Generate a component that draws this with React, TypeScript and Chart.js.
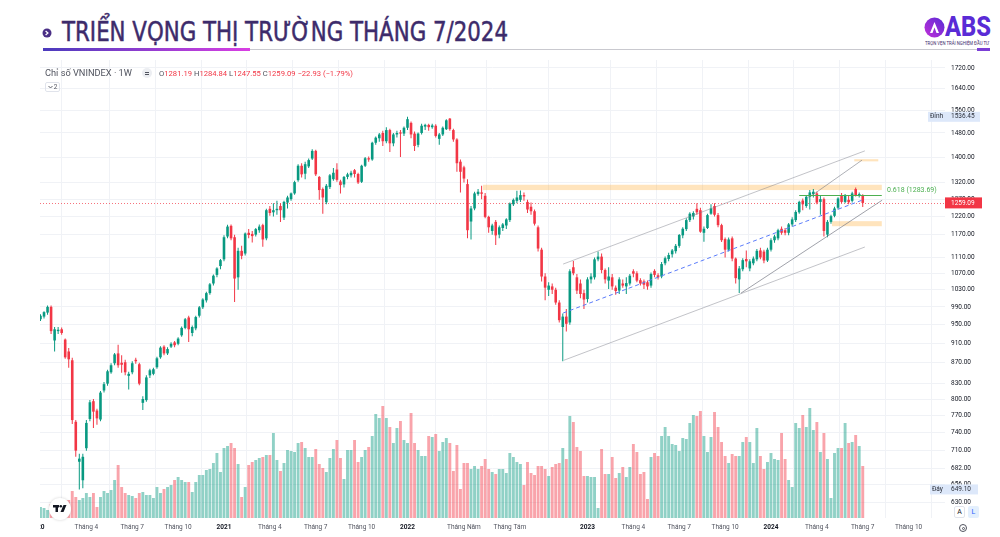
import React, { useEffect, useLayoutEffect, useRef } from 'react';
import { Chart, registerables } from 'chart.js';

Chart.register(...registerables);

// ---------- DATA (weekly VNINDEX bars, bar index 0 = first week of 2020) ----------
const OPEN = [
  958, 962, 968, 977, 990, 916, 936, 940, 918, 893,
  875, 759, 692, 663, 714, 764, 796, 779, 763, 816,
  829, 851, 869, 889, 870, 871, 844, 851, 876, 867,
  793, 798, 845, 848, 861, 881, 903, 889, 903, 912,
  909, 927, 943, 966, 932, 942, 970, 989, 1005, 1022,
  1045, 1066, 1088, 1105, 1165, 1194, 1163, 1060, 1127, 1120,
  1175, 1172, 1170, 1182, 1196, 1160, 1242, 1232, 1238, 1250,
  1217, 1260, 1270, 1287, 1327, 1372, 1347, 1370, 1395, 1420,
  1337, 1300, 1261, 1306, 1330, 1360, 1323, 1314, 1337, 1342,
  1358, 1346, 1322, 1372, 1396, 1392, 1447, 1462, 1480, 1452,
  1490, 1445, 1475, 1482, 1478, 1498, 1515, 1478, 1440, 1480,
  1502, 1508, 1500, 1505, 1460, 1475, 1493, 1530, 1490, 1458,
  1385, 1367, 1315, 1206, 1243, 1285, 1290, 1280, 1219, 1180,
  1205, 1170, 1188, 1195, 1210, 1255, 1265, 1268, 1282, 1262,
  1248, 1235, 1190, 1130, 1062, 1030, 1038, 1030, 1000, 945,
  968, 955, 1085, 1060, 1045, 1022, 1008, 1055, 1060, 1105,
  1112, 1078, 1052, 1060, 1035, 1028, 1045, 1038, 1045, 1075,
  1070, 1053, 1050, 1048, 1040, 1076, 1065, 1062, 1095, 1106,
  1118, 1126, 1140, 1168, 1185, 1210, 1220, 1242, 1238, 1175,
  1188, 1228, 1250, 1224, 1196, 1158, 1130, 1160, 1107, 1055,
  1080, 1106, 1082, 1095, 1105, 1128, 1125, 1102, 1130, 1155,
  1160, 1186, 1182, 1175, 1198, 1210, 1232, 1266, 1250, 1277,
  1285, 1287, 1262, 1270, 1170, 1205, 1222, 1245, 1282, 1262,
  1268, 1265, 1300, 1282, 1281.19,
];
const HIGH = [
  970, 973, 980, 993, 993, 945, 945, 944, 920, 900,
  880, 762, 705, 705, 762, 798, 800, 782, 815, 832,
  856, 869, 890, 907, 885, 876, 852, 873, 880, 870,
  805, 845, 858, 860, 882, 904, 906, 902, 912, 915,
  923, 946, 965, 970, 948, 970, 992, 1010, 1025, 1046,
  1067, 1085, 1106, 1168, 1197, 1198, 1170, 1135, 1140, 1176,
  1185, 1180, 1188, 1198, 1200, 1242, 1250, 1258, 1265, 1258,
  1265, 1280, 1290, 1325, 1377, 1380, 1385, 1395, 1425, 1424,
  1340, 1305, 1315, 1346, 1365, 1380, 1328, 1340, 1350, 1356,
  1362, 1350, 1375, 1400, 1402, 1450, 1468, 1480, 1488, 1500,
  1495, 1480, 1488, 1490, 1502, 1536.45, 1520, 1485, 1482, 1512,
  1512, 1512, 1512, 1510, 1480, 1502, 1528, 1532, 1495, 1462,
  1392, 1372, 1330, 1250, 1292, 1300, 1310, 1288, 1222, 1200,
  1210, 1195, 1202, 1215, 1260, 1272, 1295, 1296, 1290, 1268,
  1260, 1240, 1195, 1135, 1070, 1048, 1045, 1035, 1005, 975,
  985, 1080, 1101, 1068, 1055, 1030, 1060, 1070, 1110, 1125,
  1120, 1082, 1085, 1068, 1040, 1060, 1055, 1060, 1068, 1080,
  1075, 1058, 1055, 1052, 1072, 1080, 1070, 1098, 1112, 1122,
  1132, 1145, 1172, 1190, 1215, 1232, 1235, 1258, 1245, 1192,
  1228, 1255, 1258, 1230, 1200, 1162, 1162, 1165, 1110, 1088,
  1108, 1128, 1105, 1112, 1132, 1135, 1130, 1135, 1160, 1170,
  1186, 1192, 1188, 1202, 1218, 1238, 1265, 1272, 1280, 1297,
  1300, 1292, 1282, 1275, 1210, 1225, 1248, 1276, 1288, 1285,
  1280, 1292, 1305, 1290, 1284.84,
];
const LOW = [
  955, 958, 964, 972, 930, 893, 930, 928, 878, 860,
  755, 700, 649.1, 651, 710, 760, 748, 754, 760, 812,
  825, 848, 865, 860, 850, 845, 818, 847, 868, 826,
  780, 795, 840, 845, 858, 878, 885, 886, 900, 902,
  906, 924, 940, 913, 925, 938, 966, 985, 1000, 1018,
  1040, 1060, 1080, 1100, 1160, 1155, 1001, 1030, 1105, 1115,
  1160, 1149, 1165, 1175, 1138, 1155, 1222, 1220, 1225, 1205,
  1210, 1243, 1265, 1283, 1322, 1335, 1330, 1365, 1390, 1340,
  1268, 1228, 1255, 1300, 1325, 1322, 1287, 1305, 1330, 1335,
  1335, 1315, 1318, 1368, 1385, 1388, 1440, 1450, 1436, 1445,
  1416, 1435, 1465, 1400, 1470, 1490, 1462, 1420, 1432, 1475,
  1490, 1488, 1495, 1465, 1440, 1470, 1490, 1488, 1450, 1353,
  1290, 1320, 1160, 1157, 1238, 1280, 1270, 1215, 1175, 1170,
  1142, 1160, 1180, 1185, 1205, 1250, 1258, 1262, 1265, 1230,
  1225, 1195, 1125, 1050, 1005, 1015, 1020, 995, 955, 873,
  935, 950, 1065, 1020, 1010, 985, 1000, 1045, 1055, 1100,
  1070, 1045, 1032, 1030, 1018, 1020, 1035, 1020, 1040, 1060,
  1048, 1040, 1032, 1030, 1035, 1060, 1055, 1058, 1090, 1100,
  1110, 1120, 1135, 1160, 1180, 1205, 1212, 1225, 1175, 1151,
  1185, 1225, 1220, 1190, 1150, 1110, 1125, 1100, 1045, 1022,
  1075, 1085, 1075, 1090, 1100, 1105, 1095, 1098, 1125, 1148,
  1155, 1170, 1168, 1168, 1192, 1205, 1228, 1238, 1245, 1240,
  1275, 1255, 1225, 1165, 1163, 1200, 1218, 1240, 1258, 1258,
  1255, 1260, 1278, 1275, 1247.55,
];
const CLOSE = [
  965, 970, 978, 990, 936, 940, 939, 932, 881, 877,
  762, 710, 697, 700, 757, 794, 777, 765, 812, 828,
  853, 865, 887, 865, 866, 851, 848, 869, 873, 829,
  800, 841, 855, 857, 879, 901, 889, 898, 909, 906,
  920, 943, 962, 940, 945, 967, 989, 1007, 1022, 1043,
  1064, 1082, 1103, 1163, 1192, 1160, 1057, 1127, 1114, 1173,
  1169, 1166, 1185, 1192, 1157, 1238, 1230, 1238, 1242, 1238,
  1262, 1275, 1287, 1321, 1372, 1345, 1377, 1390, 1420, 1345,
  1297, 1275, 1310, 1342, 1350, 1328, 1312, 1337, 1345, 1350,
  1346, 1320, 1372, 1396, 1392, 1447, 1464, 1475, 1452, 1490,
  1445, 1475, 1480, 1478, 1498, 1528, 1475, 1436, 1478, 1505,
  1508, 1500, 1506, 1470, 1475, 1498, 1524, 1493, 1458, 1380,
  1353, 1332, 1182, 1243, 1287, 1292, 1286, 1219, 1190, 1195,
  1168, 1190, 1198, 1212, 1257, 1268, 1275, 1282, 1278, 1240,
  1235, 1200, 1133, 1062, 1035, 1040, 1030, 1000, 960, 968,
  952, 1075, 1070, 1028, 1020, 1007, 1055, 1062, 1105, 1112,
  1078, 1055, 1062, 1038, 1027, 1055, 1040, 1046, 1064, 1069,
  1052, 1045, 1042, 1038, 1068, 1066, 1060, 1093, 1108, 1116,
  1128, 1140, 1169, 1186, 1210, 1228, 1230, 1232, 1178, 1186,
  1224, 1243, 1225, 1196, 1155, 1130, 1157, 1107, 1058, 1082,
  1103, 1100, 1100, 1107, 1127, 1110, 1102, 1130, 1155, 1165,
  1182, 1175, 1175, 1198, 1212, 1233, 1262, 1255, 1277, 1290,
  1292, 1260, 1270, 1180, 1205, 1221, 1243, 1272, 1262, 1280,
  1261, 1287, 1282, 1282.02, 1259.09,
];
// weekly volume, million shares
const VOLUME = [
  500, 550, 500, 400, 700, 550, 400, 550, 900, 900,
  1350, 1050, 900, 1000, 1250, 1050, 1250, 550, 1050, 1350,
  1250, 1400, 1900, 2650, 1550, 1250, 1150, 1100, 1000, 1250,
  1300, 1150, 1150, 1000, 1550, 1250, 1450, 1550, 1650, 1900,
  2050, 1900, 1800, 1800, 1300, 1800, 2150, 2150, 2400, 2450,
  2750, 3250, 2300, 3500, 3600, 3750, 3500, 2700, 1050, 1550,
  2650, 2800, 2900, 3000, 3050, 3150, 3150, 4250, 2900, 2350,
  2750, 3400, 3350, 3300, 3750, 3800, 3500, 3050, 3050, 3450,
  2700, 2500, 2300, 3000, 3450, 3900, 3000, 1950, 3400, 3400,
  3900, 2800, 3050, 3400, 3550, 4100, 5200, 5000, 5600, 5000,
  4550, 3750, 4500, 4850, 3900, 3750, 5250, 3750, 3400, 3100,
  3100, 4100, 4050, 4200, 3350, 3800, 4000, 3750, 2350, 3650,
  1450, 2750, 2750, 2450, 2600, 2450, 2600, 2950, 2450, 2300,
  2200, 2450, 2450, 2250, 3250, 3050, 2800, 2700, 1650, 2800,
  2250, 2150, 2600, 2600, 2450, 2100, 2550, 2700, 2750, 3500,
  2950, 5100, 4800, 3550, 3350, 2100, 2100, 2050, 2050, 500,
  3450, 2200, 2200, 3050, 2000, 2250, 2550, 2050, 2550, 3700,
  3300, 2200, 2300, 950, 3050, 3250, 3100, 4100, 4550, 4100,
  3700, 3650, 3350, 4000, 3950, 4750, 5150, 5100, 5350, 4100,
  3300, 4050, 5300, 4550, 3800, 3100, 2750, 3200, 3100, 3100,
  3800, 4050, 3800, 2750, 4500, 3100, 2450, 2800, 3250, 2950,
  2900, 4250, 2950, 1900, 1550, 4750, 4500, 5150, 4550, 5500,
  4400, 4800, 3300, 4250, 2950, 1000, 3250, 3500, 3500, 4750,
  3750, 3800, 4150, 3600, 2600,
];

const X_TICK_BARS = [0, 14, 27, 40, 53, 66, 79, 92, 105, 121, 134, 156, 169, 182, 195, 208, 221, 234, 247];
const X_TICK_LABELS = [
  '2020', 'Tháng 4', 'Tháng 7', 'Tháng 10', '2021', 'Tháng 4', 'Tháng 7', 'Tháng 10',
  '2022', 'Tháng Năm', 'Tháng Tám', '2023', 'Tháng 4', 'Tháng 7', 'Tháng 10', '2024',
  'Tháng 4', 'Tháng 7', 'Tháng 10',
];
const Y_TICKS = [1720, 1640, 1560, 1480, 1400, 1320, 1270, 1220, 1170, 1110, 1070, 1030, 990, 950, 910, 870, 830, 800, 770, 740, 710, 682, 656, 630];

const PEAK = 1536.45;
const TROUGH = 649.1;
const FIB_VALUE = 1283.69;
const FIB_FROM = 216;
const FIB_TO = 239.4;
const FIB_LABEL_AT = 240.9;

// horizontal zones: bar range and price range
const ZONES = [
  { from: 126.4, to: 239.4, lo: 1297, hi: 1313 },
  { from: 225.3, to: 239.4, lo: 1193, hi: 1207 },
  { from: 231.6, to: 238.4, lo: 1386, hi: 1393 },
];
// trend lines: [bar, price] endpoints
const TRENDS = [
  { a: [149.1, 1093], b: [234.6, 1420], color: 'rgba(120,123,134,0.45)', dash: [] as number[] },
  { a: [149.3, 875], b: [234.6, 1137], color: 'rgba(120,123,134,0.45)', dash: [] as number[] },
  { a: [199.5, 1022], b: [239.5, 1267], color: 'rgba(120,123,134,0.7)', dash: [] as number[] },
  { a: [218.5, 1273], b: [233.8, 1390], color: 'rgba(120,123,134,0.6)', dash: [] as number[] },
  { a: [149.1, 976], b: [233.8, 1267], color: '#5b7cfa', dash: [4, 3] },
];

// view range
const X_MIN = 0.862;
const X_MAX = 257.31;
const Y_MIN = 607.6;
const Y_MAX = 1752.1;
const VOL_MAX = 22900;

const UP = '#089981';
const DOWN = '#f23645';
const UP_VOL = 'rgba(8,153,129,0.45)';
const DOWN_VOL = 'rgba(242,54,69,0.45)';
const FONT = 'Roboto, "Liberation Sans", Arial, sans-serif';
const TITLE_FONT = '"Liberation Sans Narrow", "DejaVu Sans Condensed", "Roboto Condensed", Roboto, sans-serif';

const LAST = CLOSE.length - 1;
const CHG = CLOSE[LAST] - CLOSE[LAST - 1];
const CHG_PCT = (CHG / CLOSE[LAST - 1]) * 100;
const fmt = (v: number) => v.toFixed(2);
const sgn = (v: number) => (v < 0 ? '\u2212' + Math.abs(v).toFixed(2) : '+' + v.toFixed(2));

Chart.defaults.font.family = FONT;

const annotPlugin = {
  id: 'annot',
  beforeDatasetsDraw(chart: any) {
    const { ctx, chartArea: ca } = chart;
    const xs = chart.scales.x;
    const ys = chart.scales.y;
    ctx.save();
    ctx.beginPath();
    ctx.rect(ca.left, ca.top, ca.right - ca.left, ca.bottom - ca.top);
    ctx.clip();
    ctx.fillStyle = 'rgba(255,167,38,0.3)';
    for (const z of ZONES) {
      const x1 = xs.getPixelForValue(z.from);
      const x2 = xs.getPixelForValue(z.to);
      const y1 = ys.getPixelForValue(z.hi);
      const y2 = ys.getPixelForValue(z.lo);
      ctx.fillRect(x1, y1, x2 - x1, y2 - y1);
    }
    const py = Math.round(ys.getPixelForValue(CLOSE[LAST])) + 0.5;
    ctx.strokeStyle = 'rgba(242,54,69,0.7)';
    ctx.lineWidth = 1;
    ctx.setLineDash([1, 2]);
    ctx.beginPath();
    ctx.moveTo(ca.left, py);
    ctx.lineTo(ca.right, py);
    ctx.stroke();
    ctx.restore();
  },
  afterDatasetsDraw(chart: any) {
    const { ctx, chartArea: ca } = chart;
    const xs = chart.scales.x;
    const ys = chart.scales.y;
    ctx.save();
    ctx.beginPath();
    ctx.rect(ca.left, ca.top, ca.right - ca.left, ca.bottom - ca.top);
    ctx.clip();
    ctx.lineWidth = 1;
    for (const t of TRENDS) {
      ctx.strokeStyle = t.color;
      ctx.setLineDash(t.dash);
      ctx.beginPath();
      ctx.moveTo(xs.getPixelForValue(t.a[0]), ys.getPixelForValue(t.a[1]));
      ctx.lineTo(xs.getPixelForValue(t.b[0]), ys.getPixelForValue(t.b[1]));
      ctx.stroke();
    }
    ctx.setLineDash([]);
    const fy = Math.round(ys.getPixelForValue(FIB_VALUE)) + 0.5;
    ctx.strokeStyle = '#4caf50';
    ctx.beginPath();
    ctx.moveTo(xs.getPixelForValue(FIB_FROM), fy);
    ctx.lineTo(xs.getPixelForValue(FIB_TO), fy);
    ctx.stroke();
    ctx.fillStyle = '#4caf50';
    ctx.font = `7px ${FONT}`;
    ctx.textAlign = 'left';
    ctx.textBaseline = 'middle';
    ctx.fillText(`0.618 (${fmt(FIB_VALUE)})`, xs.getPixelForValue(FIB_LABEL_AT), fy - 5);
    ctx.restore();
  },
  afterDraw(chart: any) {
    const { ctx, chartArea: ca } = chart;
    const ys = chart.scales.y;
    ctx.save();
    ctx.font = `6.5px ${FONT}`;
    ctx.textBaseline = 'middle';
    ctx.textAlign = 'left';
    // peak tag
    let y = ys.getPixelForValue(PEAK);
    ctx.fillStyle = '#dde8fa';
    ctx.fillRect(ca.right - 17, y - 5, 52, 10);
    ctx.fillStyle = '#2a2e39';
    ctx.fillText('Đỉnh', ca.right - 15, y);
    ctx.fillText(fmt(PEAK), ca.right + 6, y);
    // trough tag
    y = ys.getPixelForValue(TROUGH);
    ctx.fillStyle = '#dde8fa';
    ctx.fillRect(ca.right - 15, y - 5, 48, 10);
    ctx.fillStyle = '#2a2e39';
    ctx.fillText('Đáy', ca.right - 13, y);
    ctx.fillText(fmt(TROUGH), ca.right + 6, y);
    // last price tag
    y = ys.getPixelForValue(CLOSE[LAST]);
    ctx.fillStyle = '#f23645';
    ctx.fillRect(ca.right, y - 5.5, 37, 11);
    ctx.fillStyle = '#ffffff';
    ctx.fillText(fmt(CLOSE[LAST]), ca.right + 6, y);
    // TradingView badge
    const cx = ca.left + 20;
    const cy = ca.bottom - 9;
    ctx.shadowColor = 'rgba(0,0,0,0.18)';
    ctx.shadowBlur = 3;
    ctx.fillStyle = '#ffffff';
    ctx.beginPath();
    ctx.arc(cx, cy, 11, 0, Math.PI * 2);
    ctx.fill();
    ctx.shadowBlur = 0;
    ctx.fillStyle = '#131722';
    ctx.fillRect(cx - 7, cy - 4, 6, 2.5);
    ctx.fillRect(cx - 4.5, cy - 4, 2.5, 7);
    ctx.beginPath();
    ctx.arc(cx + 0.8, cy - 2.8, 1.3, 0, Math.PI * 2);
    ctx.fill();
    ctx.beginPath();
    ctx.moveTo(cx + 0.5, cy + 3);
    ctx.lineTo(cx + 3.5, cy - 4);
    ctx.lineTo(cx + 6.5, cy - 4);
    ctx.lineTo(cx + 3.5, cy + 3);
    ctx.closePath();
    ctx.fill();
    ctx.restore();
  },
};

function CandleChart() {
  const ref = useRef<HTMLCanvasElement>(null);
  useEffect(() => {
    const cv = ref.current;
    if (!cv) return;
    const isUp = (i: number) => CLOSE[i] >= OPEN[i];
    const col = CLOSE.map((_, i) => (isUp(i) ? UP : DOWN));
    const vcol = CLOSE.map((_, i) => (isUp(i) ? UP_VOL : DOWN_VOL));
    const chart = new Chart(cv, {
      type: 'bar',
      data: {
        datasets: [
          {
            label: 'body',
            data: CLOSE.map((c, i) => ({ x: i, y: [OPEN[i], c] })) as any,
            backgroundColor: col,
            barThickness: 2.6,
            grouped: false,
            minBarLength: 1,
            inflateAmount: 0,
            order: 1,
            yAxisID: 'y',
          } as any,
          {
            label: 'wick',
            data: CLOSE.map((_, i) => ({ x: i, y: [LOW[i], HIGH[i]] })) as any,
            backgroundColor: col,
            barThickness: 1,
            grouped: false,
            inflateAmount: 0,
            order: 2,
            yAxisID: 'y',
          } as any,
          {
            label: 'volume',
            data: VOLUME.map((v, i) => ({ x: i, y: v })) as any,
            backgroundColor: vcol,
            barThickness: 2.9,
            grouped: false,
            inflateAmount: 0,
            order: 3,
            yAxisID: 'yv',
          } as any,
        ],
      },
      options: {
        responsive: false,
        animation: false,
        layout: { padding: { top: 4, left: 0, right: 0, bottom: 0 } },
        plugins: { legend: { display: false }, tooltip: { enabled: false } },
        scales: {
          x: {
            type: 'linear',
            min: X_MIN,
            max: X_MAX,
            offset: false,
            bounds: 'data',
            grid: { color: '#f0f2f6', drawTicks: false, lineWidth: 1 },
            border: { display: false },
            ticks: {
              autoSkip: false,
              maxRotation: 0,
              padding: 5,
              font: (c: any) => {
                const k = X_TICK_BARS.indexOf(c.tick ? c.tick.value : -1);
                const yr = k >= 0 && /^\d{4}$/.test(X_TICK_LABELS[k]);
                return { size: 6.5, family: FONT, weight: yr ? 'bold' : 'normal' };
              },
              color: (c: any) => {
                const k = X_TICK_BARS.indexOf(c.tick ? c.tick.value : -1);
                return k >= 0 && /^\d{4}$/.test(X_TICK_LABELS[k]) ? '#131722' : '#50535e';
              },
              callback: (v: any) => {
                const k = X_TICK_BARS.indexOf(Number(v));
                return k >= 0 ? X_TICK_LABELS[k] : '';
              },
            },
            afterBuildTicks: (s: any) => {
              s.ticks = X_TICK_BARS.map((v) => ({ value: v }));
            },
            afterFit: (s: any) => {
              s.height = 19;
              s.paddingLeft = 0;
              s.paddingRight = 0;
            },
          } as any,
          y: {
            type: 'logarithmic',
            position: 'right',
            min: Y_MIN,
            max: Y_MAX,
            bounds: 'data',
            grid: { color: '#f0f2f6', drawTicks: false, lineWidth: 1 },
            border: { display: false },
            ticks: {
              autoSkip: false,
              padding: 6,
              font: { size: 6.5, family: FONT },
              color: '#131722',
              callback: (v: any) => Number(v).toFixed(2),
            },
            afterBuildTicks: (s: any) => {
              s.ticks = Y_TICKS.map((v) => ({ value: v }));
            },
            afterFit: (s: any) => {
              s.width = 55;
              s.paddingTop = 0;
              s.paddingBottom = 0;
            },
          } as any,
          yv: {
            type: 'linear',
            display: false,
            min: 0,
            max: VOL_MAX,
          },
        },
      } as any,
      plugins: [annotPlugin as any],
    });
    return () => chart.destroy();
  }, []);
  return (
    <canvas
      ref={ref}
      width={960}
      height={481}
      style={{ position: 'absolute', left: 40, top: 56, width: 960, height: 481 }}
    />
  );
}

function Fit({ w, style, children }: { w: number; style: any; children: any }) {
  const r = useRef<HTMLSpanElement>(null);
  useLayoutEffect(() => {
    const el = r.current;
    if (!el) return;
    el.style.transform = 'none';
    const cw = el.getBoundingClientRect().width;
    if (cw > 0) el.style.transform = `scaleX(${w / cw})`;
  }, [w]);
  return (
    <span
      ref={r}
      style={{ position: 'absolute', whiteSpace: 'nowrap', transformOrigin: '0 0', display: 'inline-block', ...style }}
    >
      {children}
    </span>
  );
}

export default function App() {
  const red = '#f23645';
  const gray = '#50535e';
  return (
    <div
      style={{
        position: 'absolute',
        left: 0,
        top: 0,
        width: 1000,
        height: 537,
        background: '#ffffff',
        overflow: 'hidden',
        fontFamily: FONT,
      }}
    >
      {/* Title bar */}
      <svg style={{ position: 'absolute', left: 42, top: 28 }} width={10} height={10} viewBox="0 0 10 10">
        <circle cx={5} cy={5} r={4.5} fill="#4a2f86" />
        <path d="M3.6 3 L5.9 5 L3.6 7" stroke="#ffffff" strokeWidth={1.3} fill="none" />
      </svg>
      <Fit
        w={446}
        style={{
          left: 62,
          top: 17,
          fontSize: 26,
          lineHeight: '30px',
          color: '#3d2b6b',
          fontWeight: 'normal',
          fontFamily: TITLE_FONT,
          WebkitTextStroke: '0.45px #3d2b6b',
        }}
      >
        TRIỂN VỌNG THỊ TRƯỜNG THÁNG 7/2024
      </Fit>
      <div style={{ position: 'absolute', left: 43, top: 48, width: 207, height: 3, background: 'linear-gradient(90deg,#4b3bbd,#d93fe3)' }} />
      <div style={{ position: 'absolute', left: 250, top: 49, width: 727, height: 1, background: '#c9c9cf' }} />
      <div style={{ position: 'absolute', left: 977, top: 48, width: 13, height: 3, background: '#7b3fd6' }} />

      {/* ABS logo */}
      <svg style={{ position: 'absolute', left: 924, top: 17 }} width={21} height={21} viewBox="0 0 21 21">
        <defs>
          <linearGradient id="absg" x1="0" y1="1" x2="1" y2="0">
            <stop offset="0" stopColor="#c22fd8" />
            <stop offset="1" stopColor="#5a2bd6" />
          </linearGradient>
        </defs>
        <circle cx={10.5} cy={10.5} r={10} fill="url(#absg)" />
        <path d="M6 16 L10.5 5 L15 16 L12.5 16 L10.5 10.5 L8.5 16 Z" fill="#ffffff" />
      </svg>
      <Fit w={46} style={{ left: 945, top: 12, fontSize: 27, lineHeight: '30px', fontWeight: 800, color: '#5a2bd6', fontFamily: FONT }}>
        ABS
      </Fit>
      <Fit w={64} style={{ left: 925, top: 40, fontSize: 5, lineHeight: '6px', color: '#3d2b6b', fontFamily: FONT }}>
        TRỌN VẸN TRẢI NGHIỆM ĐẦU TƯ
      </Fit>

      <CandleChart />

      {/* TradingView legend header */}
      <Fit w={87} style={{ left: 45, top: 68, fontSize: 9, lineHeight: '10px', color: gray, fontFamily: FONT }}>
        Chỉ số VNINDEX · 1W
      </Fit>
      <div
        style={{
          position: 'absolute',
          left: 142,
          top: 68,
          width: 10,
          height: 10,
          borderRadius: 5,
          background: '#eceef2',
        }}
      >
        <div style={{ position: 'absolute', left: 3, top: 3.5, width: 4, height: 1, background: '#50535e' }} />
        <div style={{ position: 'absolute', left: 3, top: 5.5, width: 4, height: 1, background: '#50535e' }} />
      </div>
      <Fit w={194} style={{ left: 159, top: 69, fontSize: 7.5, lineHeight: '9px', fontFamily: FONT }}>
        <span style={{ color: gray }}>O</span>
        <span style={{ color: red }}>{fmt(OPEN[LAST])}</span>
        <span style={{ color: gray }}> H</span>
        <span style={{ color: red }}>{fmt(HIGH[LAST])}</span>
        <span style={{ color: gray }}> L</span>
        <span style={{ color: red }}>{fmt(LOW[LAST])}</span>
        <span style={{ color: gray }}> C</span>
        <span style={{ color: red }}>{fmt(CLOSE[LAST])}</span>
        <span style={{ color: red }}>{` ${sgn(CHG)} (${sgn(CHG_PCT)}%)`}</span>
      </Fit>
      <div
        style={{
          position: 'absolute',
          left: 45,
          top: 82,
          width: 15,
          height: 10,
          border: '1px solid #e0e3eb',
          borderRadius: 2,
          boxSizing: 'border-box',
          fontSize: 6.5,
          lineHeight: '8px',
          color: gray,
          textAlign: 'center',
        }}
      >
        <svg width={5} height={4} viewBox="0 0 5 4" style={{ verticalAlign: 'middle', marginRight: 1 }}>
          <path d="M0.5 1 L2.5 3 L4.5 1" stroke="#50535e" strokeWidth={0.9} fill="none" />
        </svg>
        2
      </div>

      {/* bottom-right controls */}
      <div
        style={{
          position: 'absolute',
          left: 954,
          top: 506,
          width: 11,
          height: 12,
          border: '1px solid #e0e3eb',
          borderRadius: 2,
          boxSizing: 'border-box',
          fontSize: 7,
          lineHeight: '10px',
          textAlign: 'center',
          color: '#131722',
          background: '#fff',
        }}
      >
        A
      </div>
      <div
        style={{
          position: 'absolute',
          left: 968,
          top: 506,
          width: 11,
          height: 12,
          borderRadius: 2,
          boxSizing: 'border-box',
          fontSize: 7,
          lineHeight: '12px',
          textAlign: 'center',
          color: '#2962ff',
          background: '#e3effd',
        }}
      >
        L
      </div>
      <div
        style={{
          position: 'absolute',
          left: 959,
          top: 524,
          width: 8,
          height: 8,
          borderRadius: 4,
          border: '1px solid #50535e',
          boxSizing: 'border-box',
        }}
      >
        <div style={{ position: 'absolute', left: 1.5, top: 1.5, width: 3, height: 3, borderRadius: 2, border: '0.8px solid #50535e', boxSizing: 'border-box' }} />
      </div>
    </div>
  );
}
